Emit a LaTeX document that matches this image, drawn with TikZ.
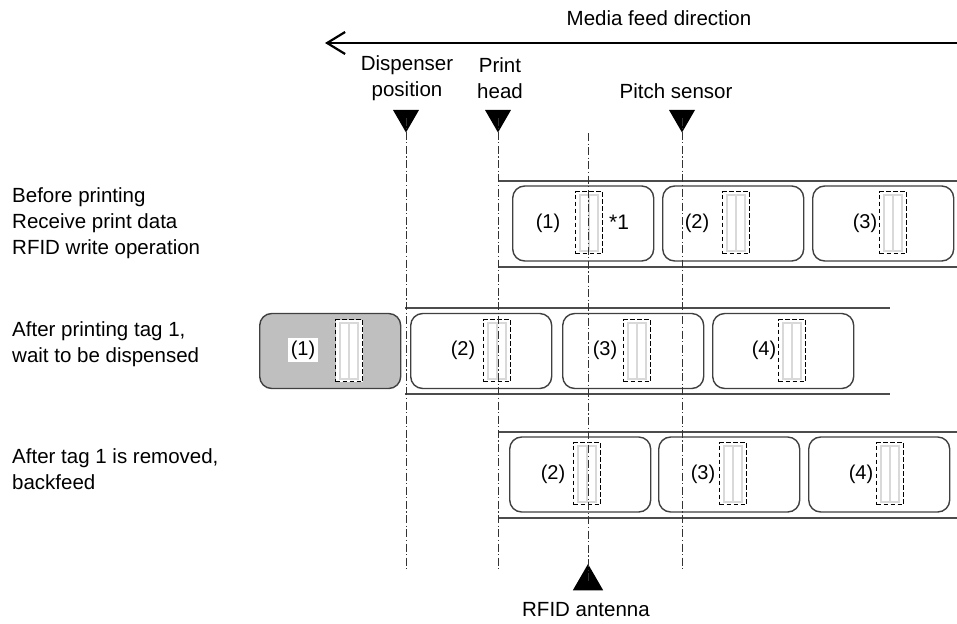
\documentclass[tikz,border=0pt]{standalone}
\usepackage{fontspec}
\setmainfont{Liberation Sans}
\usetikzlibrary{arrows.meta,shapes.geometric}

\tikzset{
  txt/.style = {font=\fontsize{20.5}{26}\selectfont, inner sep=0pt},
  axisline/.style = {line width=0.8pt, black!80, dash pattern=on 8pt off 2.5pt on 1.2pt off 2.5pt},
  strip/.style = {line width=2pt, black!70},
  labelbox/.style = {draw=black!75, line width=1.4pt, rounded corners=12pt, minimum width=141pt, minimum height=75pt, inner sep=0pt},
  downmark/.style = {regular polygon, regular polygon sides=3, shape border rotate=180, fill=black, inner sep=0pt, minimum size=30pt},
  upmark/.style = {regular polygon, regular polygon sides=3, fill=black, inner sep=0pt, minimum size=35pt},
  tagbox/.style = {draw=black, line width=1.3pt, dash pattern=on 4.5pt off 2.5pt, fill=white, inner sep=0pt,
    minimum width=27pt, minimum height=62pt,
    path picture={
      \draw[solid, gray!30, line width=2pt] ([xshift=4.5pt,yshift=-3pt]path picture bounding box.north west) rectangle ([xshift=13.5pt,yshift=3pt]path picture bounding box.south west);
      \draw[solid, gray!30, line width=2pt] ([xshift=13.5pt,yshift=-3pt]path picture bounding box.north west) rectangle ([xshift=22.5pt,yshift=3pt]path picture bounding box.south west);
    }},
}

\begin{document}
\begin{tikzpicture}[x=1pt, y=-1pt]
	\useasboundingbox (0,0) rectangle (957,623);
	% feed direction
	\node[txt] (feed) at (659,18) {Media feed direction};
	\coordinate (feedR) at (957,43);
	\coordinate (feedL) at (325,43);
	\draw[line width=2.2pt, -{Straight Barb[length=18pt,width=22pt,line width=2.2pt]}] (feedR) -- (feedL);
	% positions
	\node[txt, align=center] (disp) at (407,78) {Dispenser\\position};
	\node[txt, align=center] (head) at (500,78) {Print\\head};
	\node[txt] (pitch) at (676,91) {Pitch sensor};
	\node[downmark] (dispMark) at (406,117.5) {};
	\node[downmark] (headMark) at (498,117.5) {};
	\node[downmark] (pitchMark) at (682,117.5) {};
	\node[upmark] (rfidMark) at (588,581.5) {};
	\node[txt] (rfid) at (586,610) {RFID antenna};
	\coordinate (dispEnd) at (406,570);
	\coordinate (headEnd) at (498,570);
	\coordinate (pitchEnd) at (682,570);
	\coordinate (rfidTop) at (588,133);
	% states
	\node[txt, align=left, anchor=west] (state1) at (12,223.5) {Before printing\\Receive print data\\RFID write operation};
	\node[txt, align=left, anchor=west] (state2) at (12,344.5) {After printing tag 1,\\wait to be dispensed};
	\node[txt, align=left, anchor=west] (state3) at (12,469.5) {After tag 1 is removed,\\backfeed};
	% media strips
	\draw[strip] (498,181) -- (957,181);
	\draw[strip] (498,267) -- (957,267);
	\draw[strip] (405,308) -- (890,308);
	\draw[strip] (405,394) -- (890,394);
	\draw[strip] (498,432) -- (957,432);
	\draw[strip] (498,518) -- (957,518);
	% labels
	\foreach \x/\t/\n/\k in {512/575/548/1, 662/722/697/2, 812/879/865/3} {
		\node[labelbox, anchor=west] (rowAl\k) at (\x,223.5) {};
		\node[tagbox, anchor=north west] (rowAt\k) at (\t,191) {};
		\node[txt, font=\fontsize{20}{24}\selectfont] (rowAn\k) at (\n,223) {(\k)};
	}
	\node[txt, font=\fontsize{21}{24}\selectfont] (star) at (619,222) {*1};
	\node[labelbox, fill=black!25, anchor=west] (rowBl1) at (259,351) {};
	\node[tagbox, anchor=north west] (rowBt1) at (335,319) {};
	\node[txt, font=\fontsize{20}{24}\selectfont, fill=white, inner sep=3pt] (rowBn1) at (303,350) {(1)};
	\foreach \x/\t/\n/\k in {410/483/463/2, 562/623/605/3, 712/778/764/4} {
		\node[labelbox, anchor=west] (rowBl\k) at (\x,351) {};
		\node[tagbox, anchor=north west] (rowBt\k) at (\t,319) {};
		\node[txt, font=\fontsize{20}{24}\selectfont] (rowBn\k) at (\n,350) {(\k)};
	}
	\foreach \x/\t/\n/\k in {509/573/553/2, 658/719/703/3, 808/876/861/4} {
		\node[labelbox, anchor=west] (rowCl\k) at (\x,474.5) {};
		\node[tagbox, anchor=north west] (rowCt\k) at (\t,442) {};
		\node[txt, font=\fontsize{20}{24}\selectfont] (rowCn\k) at (\n,474) {(\k)};
	}
	% reference lines
	\draw[axisline] (dispMark.center) -- (dispEnd);
	\draw[axisline] (headMark.center) -- (headEnd);
	\draw[axisline] (pitchMark.center) -- (pitchEnd);
	\draw[axisline] (rfidTop) -- (rfidMark.center);
\end{tikzpicture}
\end{document}
